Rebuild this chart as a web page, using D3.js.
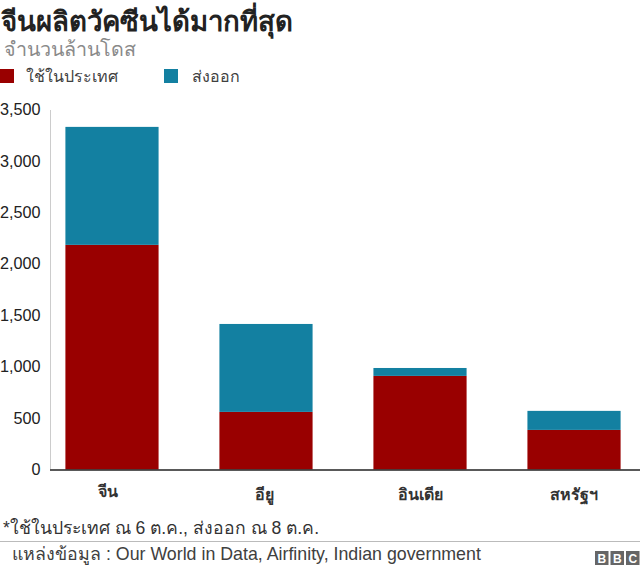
<!DOCTYPE html>
<html><head><meta charset="utf-8">
<script src="https://cdn.jsdelivr.net/npm/d3@7/dist/d3.min.js"></script>
<style>html,body{margin:0;padding:0;background:#fff}svg{display:block}text{font-family:"Liberation Sans","Noto Sans",sans-serif}</style>
</head><body><svg id="c" width="640" height="569"></svg>
<script>
const categories=["จีน","อียู","อินเดีย","สหรัฐฯ"];
const domestic=[2184,560,910,385];
const exported=[1147,855,77,185];
const yTicks=[0,500,1000,1500,2000,2500,3000,3500];
const seriesNames=["ใช้ในประเทศ","ส่งออก"];
const colors=["#990000","#1380A1"];
const title="จีนผลิตวัคซีนได้มากที่สุด";
const subtitle="จำนวนล้านโดส";
const note="*ใช้ในประเทศ ณ 6 ต.ค., ส่งออก ณ 8 ต.ค.";
const source="แหล่งข้อมูล : Our World in Data, Airfinity, Indian government";

const svg=d3.select("#c");
const y=d3.scaleLinear().domain([0,3500]).range([469.5,109.5]);
const x=d3.scaleBand().domain(categories).range([50,636]).paddingInner(0.395).paddingOuter(0.1);
const rows=categories.map((c,i)=>({c,domestic:domestic[i],exported:exported[i]}));
const stacked=d3.stack().keys(["domestic","exported"])(rows);

svg.append("text").attr("x",1).attr("y",31).attr("font-size",27.6).attr("font-weight",700).attr("fill","#222").text(title);
svg.append("text").attr("x",4).attr("y",56).attr("font-size",19.7).attr("fill","#8a8a8a").text(subtitle);

[[0,26],[164,192]].forEach(([lx,tx],i)=>{
  svg.append("rect").attr("x",lx).attr("y",69).attr("width",14).attr("height",14).attr("fill",colors[i]);
  svg.append("text").attr("x",tx).attr("y",82).attr("font-size",16).attr("fill","#404040").text(seriesNames[i]);
});

svg.append("line").attr("x1",50.5).attr("x2",50.5).attr("y1",110).attr("y2",469).attr("stroke","#ccc");

stacked.forEach((s,i)=>{
  svg.append("g").selectAll("rect").data(s).join("rect")
    .attr("x",d=>x(d.data.c)).attr("width",x.bandwidth())
    .attr("y",d=>y(d[1])).attr("height",d=>y(d[0])-y(d[1])).attr("fill",colors[i]);
});

const ya=svg.append("g").attr("transform","translate(40.5,0)")
  .call(d3.axisLeft(y).tickValues(yTicks).tickFormat(d3.format(",")).tickSize(0).tickPadding(0));
ya.select(".domain").remove();
ya.selectAll("text").attr("font-size",16.2).attr("fill","#222").style("font-family",'"Liberation Sans",sans-serif');

svg.append("line").attr("x1",50).attr("x2",640).attr("y1",470).attr("y2",470).attr("stroke","#222").attr("stroke-width",1.5);

const xa=svg.append("g").attr("transform","translate(0,470)")
  .call(d3.axisBottom(x).tickSize(0).tickPadding(16));
xa.select(".domain").remove();
xa.selectAll("text").attr("font-size",16).attr("font-weight",700).attr("fill","#333").attr("dx",(d,i)=>i===0?-3.5:i===1?-1.5:0).attr("dy",(d,i)=>i===0?"0.71em":"0.85em").style("font-family",'"Noto Sans","Liberation Sans",sans-serif');

svg.append("text").attr("x",3).attr("y",534).attr("font-size",17.6).attr("fill","#333").text(note);
svg.append("line").attr("x1",0).attr("x2",640).attr("y1",541.5).attr("y2",541.5).attr("stroke","#bbb");
svg.append("text").attr("x",12).attr("y",560).attr("font-size",17.8).attr("fill","#404040").text(source);

["B","B","C"].forEach((t,i)=>{
  const bx=595+i*15.5;
  svg.append("rect").attr("x",bx).attr("y",551).attr("width",13.5).attr("height",14).attr("fill","#666");
  svg.append("text").attr("x",bx+6.75).attr("y",562.5).attr("text-anchor","middle").attr("font-size",12).attr("font-weight",700).attr("fill","#fff").text(t);
});
</script></body></html>
